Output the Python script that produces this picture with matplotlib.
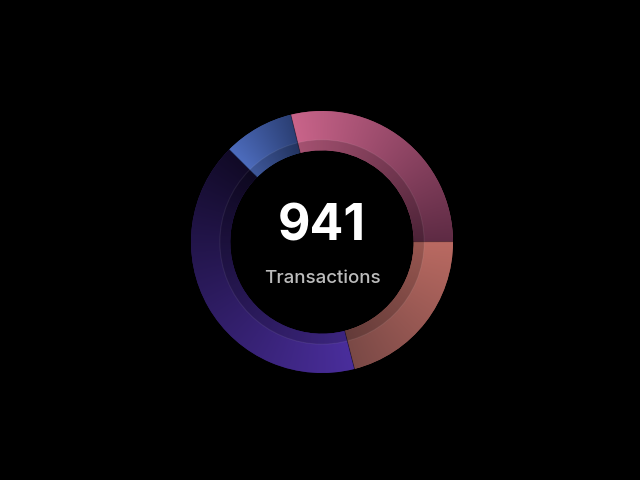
import numpy as np
import matplotlib
matplotlib.use("Agg")
import matplotlib.pyplot as plt
from matplotlib.patches import Wedge, Circle
from matplotlib.colors import to_rgb

# ---- data ----
labels = ["Pink", "Salmon", "Purple", "Blue"]
values = [271, 198, 390, 82]
total_label = "941"
caption = "Transactions"
start_colors = ["#c9648a", "#ba6a62", "#4a2e9c", "#4d6cbd"]
end_colors = ["#5e2b44", "#7a4946", "#110a26", "#2b3f74"]

# ---- figure ----
fig = plt.figure(figsize=(6.4, 4.8), dpi=100, facecolor="black")
cx, cy, half = 322, 238, 140
ax = fig.add_axes([(cx - half) / 640, (cy - half) / 480, 2 * half / 640, 2 * half / 480])
ax.set_facecolor("black")
lim = half / 131
ax.axis("off")

r_in = 0.70
wedges, _ = ax.pie(values, startangle=103.8, counterclock=False, radius=1.0,
                   colors=start_colors,
                   wedgeprops=dict(width=1.0 - r_in, edgecolor="none", linewidth=0))
ax.set_xlim(-lim, lim)
ax.set_ylim(-lim, lim)
ax.set_aspect("equal")

n = 700
xs = np.linspace(-lim, lim, n)
X, Y = np.meshgrid(xs, xs[::-1])
ang = np.degrees(np.arctan2(Y, X))

for w, c0, c1 in zip(wedges, start_colors, end_colors):
    t1, t2 = w.theta1, w.theta2
    span = t2 - t1
    f = np.mod(t2 - ang, 360.0) / span
    f = np.clip(f, 0, 1)[..., None]
    img = np.array(to_rgb(c0)) * (1 - f) + np.array(to_rgb(c1)) * f
    w.set_facecolor(tuple(np.array(to_rgb(c0)) * 0.5 + np.array(to_rgb(c1)) * 0.5))
    im = ax.imshow(img, extent=(-lim, lim, -lim, lim), interpolation="bilinear", zorder=2)
    im.set_clip_path(w)

# inner darker band and subtle highlight line
r_band = 0.78
ax.add_patch(Wedge((0, 0), r_band, 0, 360, width=r_band - r_in,
                   facecolor=(0, 0, 0, 0.18), edgecolor="none", zorder=3))
ax.add_patch(Circle((0, 0), r_band, fill=False, edgecolor=(1, 1, 1, 0.07),
                    linewidth=0.8, zorder=4))

# thin separators
for w in wedges:
    a = np.radians(w.theta1)
    ax.plot([r_in * np.cos(a), np.cos(a)], [r_in * np.sin(a), np.sin(a)],
            color=(0, 0, 0, 0.3), lw=0.6, zorder=5)

ax.text(0, 0.015, total_label, ha="center", va="baseline", color="white",
        fontsize=36, fontweight="bold", family=["Inter", "DejaVu Sans"], zorder=6)
ax.text(0, -0.313, caption, ha="center", va="baseline", color="#bcbcbc",
        fontsize=13.5, fontweight="medium", family=["Inter", "DejaVu Sans"], zorder=6)

fig.savefig("out.png", dpi=100, facecolor="black")
